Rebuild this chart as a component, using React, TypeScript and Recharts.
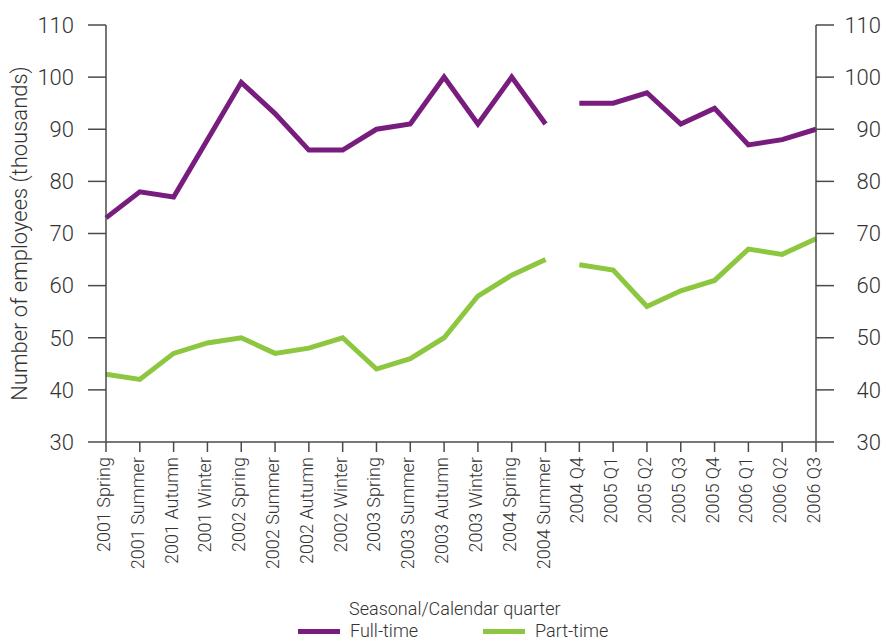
import React from 'react';
import { LineChart, Line, XAxis, YAxis, Legend } from 'recharts';

const categories = [
  '2001 Spring', '2001 Summer', '2001 Autumn', '2001 Winter',
  '2002 Spring', '2002 Summer', '2002 Autumn', '2002 Winter',
  '2003 Spring', '2003 Summer', '2003 Autumn', '2003 Winter',
  '2004 Spring', '2004 Summer',
  '2004 Q4', '2005 Q1', '2005 Q2', '2005 Q3', '2005 Q4',
  '2006 Q1', '2006 Q2', '2006 Q3',
];
const fullTime = [73, 78, 77, 88, 99, 93, 86, 86, 90, 91, 100, 91, 100, 91, 95, 95, 97, 91, 94, 87, 88, 90];
const partTime = [43, 42, 47, 49, 50, 47, 48, 50, 44, 46, 50, 58, 62, 65, 64, 63, 56, 59, 61, 67, 66, 69];
const seasonalCount = 14; // first 14 points are seasonal, rest calendar quarters (break between)
const yTicks = [30, 40, 50, 60, 70, 80, 90, 100, 110];

const PURPLE = '#781d7e';
const GREEN = '#8dc63f';
const AXIS = '#4a4a4a';
const TEXT = '#333333';
const FONT = "Roboto, 'Liberation Sans', Arial, sans-serif";

const data = categories.map((c, i) => ({
  name: c,
  ft1: i < seasonalCount ? fullTime[i] : null,
  ft2: i >= seasonalCount ? fullTime[i] : null,
  pt1: i < seasonalCount ? partTime[i] : null,
  pt2: i >= seasonalCount ? partTime[i] : null,
}));

const XTick = (props: any) => {
  const { x, y, payload } = props;
  return (
    <g transform={`translate(${x},${y})`}>
      <text
        transform="rotate(-90)"
        x={-3}
        y={0}
        dy={4}
        textAnchor="end"
        fontSize={18}
        fontWeight={300}
        fill={TEXT}
        fontFamily={FONT}
      >
        {payload.value}
      </text>
    </g>
  );
};

const RightTick = (props: any) => {
  const { x, y, payload } = props;
  return (
    <text x={x + 45} y={y} dy="0.35em" textAnchor="end" fontSize={22} fontWeight={300} fill={TEXT} fontFamily={FONT}>
      {payload.value}
    </text>
  );
};

const YLabel = () => (
  <text
    transform="translate(27,233.5) rotate(-90)"
    textAnchor="middle"
    fontSize={22}
    fontWeight={300}
    fill={TEXT}
    fontFamily={FONT}
  >
    Number of employees (thousands)
  </text>
);

const LegendContent = (props: any) => {
  const items = (props.payload || []).filter((p: any) => p.type !== 'none');
  return (
    <div style={{ position: 'relative', width: 886, height: 42, fontFamily: FONT, color: TEXT, fontWeight: 300 }}>
      <div style={{ position: 'absolute', left: 349, top: 0, fontSize: 18, lineHeight: '20px', whiteSpace: 'nowrap' }}>
        Seasonal/Calendar quarter
      </div>
      <div style={{ position: 'absolute', left: 298, top: 22, display: 'flex' }}>
        {items.map((it: any) => (
          <div key={it.value} style={{ width: 185, display: 'flex', alignItems: 'center', height: 20 }}>
            <div style={{ width: 42, height: 5, background: it.color, marginRight: 10 }} />
            <span style={{ fontSize: 18, lineHeight: '20px', whiteSpace: 'nowrap' }}>{it.value}</span>
          </div>
        ))}
      </div>
    </div>
  );
};

export default function App() {
  return (
    <div style={{ position: 'absolute', left: 0, top: 0, width: 886, height: 643, background: '#fff', overflow: 'hidden' }}>
      <LineChart width={886} height={643} data={data} margin={{ top: 25, right: 0, bottom: 0, left: 0 }}>
        <XAxis
          dataKey="name"
          interval={0}
          height={201}
          tick={<XTick />}
          tickSize={10}
          axisLine={{ stroke: AXIS, strokeWidth: 1.5 }}
          tickLine={{ stroke: AXIS, strokeWidth: 1.5 }}
        />
        <YAxis
          yAxisId="left"
          orientation="left"
          width={106}
          domain={[30, 110]}
          ticks={yTicks}
          interval={0}
          tickSize={18}
          tickMargin={14}
          tick={{ fontSize: 22, fill: TEXT, fontFamily: FONT, fontWeight: 300 }}
          axisLine={{ stroke: AXIS, strokeWidth: 1.5 }}
          tickLine={{ stroke: AXIS, strokeWidth: 1.5 }}
          label={{ content: () => <YLabel /> }}
        />
        <YAxis
          yAxisId="right"
          orientation="right"
          width={70}
          domain={[30, 110]}
          ticks={yTicks}
          interval={0}
          tickSize={18}
          tick={<RightTick />}
          axisLine={{ stroke: AXIS, strokeWidth: 1.5 }}
          tickLine={{ stroke: AXIS, strokeWidth: 1.5 }}
        />
        <Legend
          layout="horizontal"
          verticalAlign="middle"
          align="center"
          wrapperStyle={{ left: 0, top: 599, width: 886 }}
          content={<LegendContent />}
        />
        <Line yAxisId="left" type="linear" dataKey="ft1" name="Full-time" stroke={PURPLE} strokeWidth={5} dot={false} activeDot={false} isAnimationActive={false} connectNulls={false} />
        <Line yAxisId="right" type="linear" dataKey="pt1" name="Part-time" stroke={GREEN} strokeWidth={5} dot={false} activeDot={false} isAnimationActive={false} connectNulls={false} />
        <Line yAxisId="left" type="linear" dataKey="ft2" name="Full-time (calendar)" legendType="none" stroke={PURPLE} strokeWidth={5} dot={false} activeDot={false} isAnimationActive={false} connectNulls={false} />
        <Line yAxisId="right" type="linear" dataKey="pt2" name="Part-time (calendar)" legendType="none" stroke={GREEN} strokeWidth={5} dot={false} activeDot={false} isAnimationActive={false} connectNulls={false} />
      </LineChart>
    </div>
  );
}
